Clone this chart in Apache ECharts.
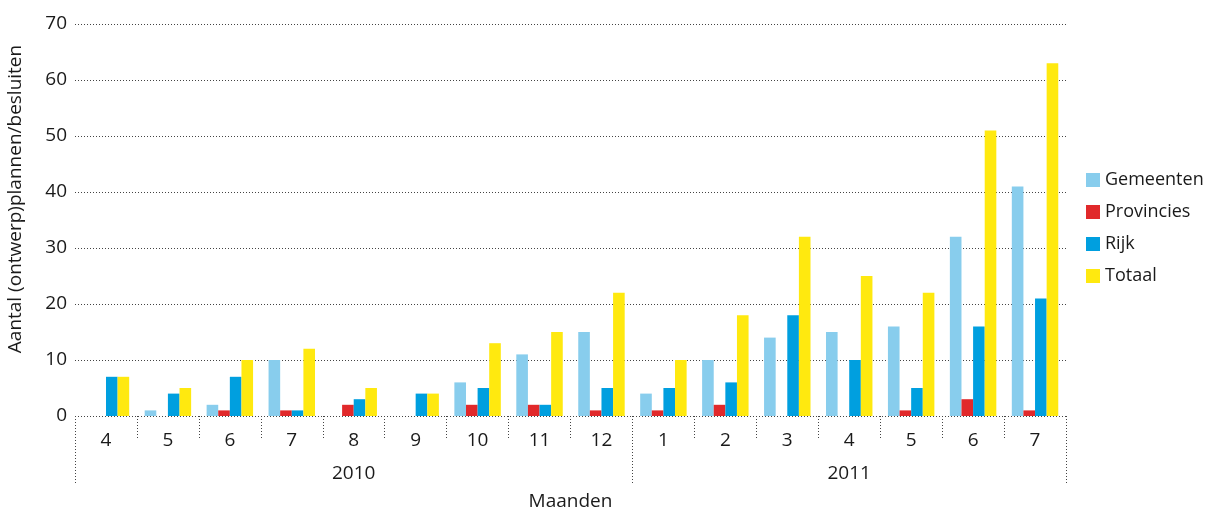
<!DOCTYPE html>
<html>
<head>
<meta charset="utf-8">
<script src="https://cdn.jsdelivr.net/npm/echarts@6/dist/echarts.min.js"></script>
<style>
  html, body { margin: 0; padding: 0; background: #fff; }
  #main { width: 1206px; height: 509px; }
</style>
</head>
<body>
<div id="main"></div>
<script>
// months per year (x axis, two levels)
var years = ['2010', '2011'];
var months2010 = ['4', '5', '6', '7', '8', '9', '10', '11', '12'];
var months2011 = ['1', '2', '3', '4', '5', '6', '7'];

// values
var gemeenten  = [0, 1, 2, 10, 0, 0, 6, 11, 15,   4, 10, 14, 15, 16, 32, 41];
var provincies = [0, 0, 1, 1, 2, 0, 2, 2, 1,      1, 2, 0, 0, 1, 3, 1];
var rijk       = [7, 4, 7, 1, 3, 4, 5, 2, 5,      5, 6, 18, 10, 5, 16, 21];
var totaal     = [7, 5, 10, 12, 5, 4, 13, 15, 22, 10, 18, 32, 25, 22, 51, 63];

var seriesNames = ['Gemeenten', 'Provincies', 'Rijk', 'Totaal'];
var colors = ['#88cded', '#e1292b', '#009fdf', '#ffe90f'];

var months = months2010.concat(months2011);
// year label sits in the middle month of its block
var yearLabels = months.map(function () { return ''; });
yearLabels[Math.floor(months2010.length / 2)] = years[0];
yearLabels[months2010.length + Math.floor(months2011.length / 2)] = years[1];

var font = 'Open Sans';
var textColor = '#1a1a1a';
var dotted = { type: [1, 2], color: '#444', width: 1 };

var chart = echarts.init(document.getElementById('main'));

var option = {
    animation: false,
    textStyle: { fontFamily: font },
    color: colors,
    grid: { left: 75, right: 140, top: 24, bottom: 93, containLabel: false, outerBoundsMode: 'none' },
    legend: {
        orient: 'vertical',
        left: 1081,
        top: 166,
        itemWidth: 14,
        itemHeight: 14,
        itemGap: 14,
        icon: 'rect',
        data: seriesNames,
        textStyle: { fontFamily: font, fontSize: 18, color: textColor }
    },
    xAxis: [
        {
            type: 'category',
            data: months,
            position: 'bottom',
            offset: 12,
            axisLine: { show: false },
            axisTick: { show: true, interval: 0, length: 22, lineStyle: dotted },
            axisLabel: { interval: 0, margin: 3, fontSize: 19, color: textColor, fontFamily: font },
            name: 'Maanden',
            nameLocation: 'middle',
            nameGap: 64,
            nameTextStyle: { fontSize: 19, color: textColor, fontFamily: font }
        },
        {
            type: 'category',
            data: yearLabels,
            position: 'bottom',
            offset: 12,
            axisLine: { show: false },
            axisTick: {
                show: true,
                length: 57,
                lineStyle: dotted,
                interval: function (index) {
                    return index === 0 || index === months2010.length;
                }
            },
            axisLabel: { interval: 0, margin: 36, fontSize: 19, color: textColor, fontFamily: font }
        }
    ],
    yAxis: {
        type: 'value',
        min: 0,
        max: 70,
        interval: 10,
        axisLine: { show: false },
        axisTick: { show: false },
        axisLabel: { margin: 8, fontSize: 19, color: textColor, fontFamily: font },
        splitLine: { show: true, lineStyle: dotted },
        name: 'Aantal (ontwerp)plannen/besluiten',
        nameLocation: 'middle',
        nameGap: 50,
        nameTextStyle: { fontSize: 19, color: textColor, fontFamily: font, padding: [0, 0, 0, 42] }
    },
    series: [
        { name: seriesNames[0], type: 'bar', xAxisIndex: 0, data: gemeenten, barGap: 0, barCategoryGap: '25%' },
        { name: seriesNames[1], type: 'bar', xAxisIndex: 0, data: provincies, barGap: 0, barCategoryGap: '25%' },
        { name: seriesNames[2], type: 'bar', xAxisIndex: 0, data: rijk, barGap: 0, barCategoryGap: '25%' },
        { name: seriesNames[3], type: 'bar', xAxisIndex: 0, data: totaal, barGap: 0, barCategoryGap: '25%' }
    ]
};

chart.setOption(option);
</script>
</body>
</html>
